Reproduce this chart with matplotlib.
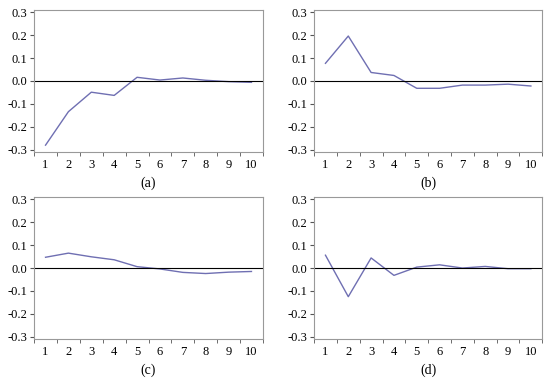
import numpy as np
import matplotlib.pyplot as plt

plt.rcParams['font.family'] = ['Liberation Serif', 'DejaVu Serif']
plt.rcParams['axes.unicode_minus'] = False

# periods
periods = [1, 2, 3, 4, 5, 6, 7, 8, 9, 10]

# responses
resp_a = [-0.280, -0.134, -0.049, -0.063, 0.016, 0.004, 0.013, 0.003, -0.003, -0.006]
resp_b = [0.077, 0.196, 0.037, 0.024, -0.032, -0.032, -0.018, -0.018, -0.014, -0.022]
resp_c = [0.047, 0.065, 0.049, 0.036, 0.006, -0.004, -0.019, -0.024, -0.018, -0.015]
resp_d = [0.056, -0.125, 0.044, -0.032, 0.004, 0.014, 0.000, 0.007, -0.003, -0.003]

panel_labels = ["(a)", "(b)", "(c)", "(d)"]
y_ticks = [-0.3, -0.2, -0.1, 0.0, 0.1, 0.2, 0.3]

fig = plt.figure(figsize=(5.5, 3.81), dpi=100)

# axes boxes in figure fractions (left, bottom, width, height)
boxes = [
    [0.062, 0.601, 0.416, 0.373],
    [0.571, 0.601, 0.415, 0.373],
    [0.062, 0.110, 0.416, 0.373],
    [0.571, 0.110, 0.415, 0.373],
]

series = [resp_a, resp_b, resp_c, resp_d]

for box, vals, lab in zip(boxes, series, panel_labels):
    ax = fig.add_axes(box)
    ax.plot(periods, vals, color="#6f6fb2", lw=1.0)
    ax.axhline(0, color="black", lw=0.8)

    ax.set_xlim(0.5, 10.5)
    ax.set_ylim(-0.31, 0.31)
    ax.set_yticks(y_ticks)
    ax.set_yticklabels(["%.1f" % v for v in y_ticks])
    ax.set_xticks(periods)
    ax.set_xticks(np.arange(0.5, 11, 1), minor=True)
    ax.tick_params(axis="x", which="major", length=0, pad=5, labelsize=9)
    ax.tick_params(axis="x", which="minor", length=3, direction="out", color="#555555")
    ax.tick_params(axis="y", length=3, direction="out", labelsize=9, pad=2, color="#555555")

    for s in ax.spines.values():
        s.set_color("#999999")
        s.set_linewidth(0.8)

    ax.text(0.5, -0.175, lab, transform=ax.transAxes, ha="center", va="top", fontsize=10)

plt.savefig("out.png")
